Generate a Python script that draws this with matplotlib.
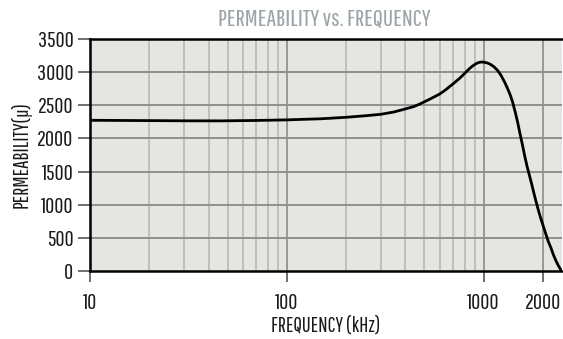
import matplotlib
matplotlib.use("Agg")
import matplotlib.pyplot as plt
from matplotlib.ticker import FixedLocator, NullFormatter

plt.rcParams['font.family'] = ['Pathway Gothic One', 'DejaVu Sans']

# values
freq_khz = [10, 15, 20, 30, 45, 70, 100, 150, 200, 250, 300, 350, 400, 440,
            470, 530, 597, 635, 670, 710, 753, 800, 847, 880, 915, 945, 970,
            1000, 1048, 1090, 1133, 1180, 1225, 1275, 1324, 1365, 1403, 1445,
            1487, 1530, 1575, 1620, 1668, 1715, 1760, 1800, 1844, 1900, 1950,
            2010, 2071, 2130, 2200, 2260, 2328, 2400, 2490]
permeability = [2275, 2272, 2270, 2267, 2266, 2272, 2281, 2298, 2320, 2343,
                2365, 2400, 2446, 2480, 2515, 2590, 2670, 2725, 2780, 2840,
                2905, 2980, 3054, 3095, 3129, 3147, 3154, 3153, 3139, 3115,
                3079, 3025, 2955, 2860, 2754, 2660, 2555, 2410, 2256, 2080,
                1907, 1730, 1565, 1430, 1300, 1180, 1058, 915, 800, 680, 560,
                450, 350, 250, 160, 80, 0]

x_ticks = [10, 100, 1000, 2000]
x_minor = [20, 30, 40, 50, 60, 70, 80, 90, 200, 300, 400, 500, 600, 700,
           800, 900]
y_ticks = [0, 500, 1000, 1500, 2000, 2500, 3000, 3500]

fig = plt.figure(figsize=(5.63, 3.39), dpi=100)
ax = fig.add_axes([0.160, 0.2006, 0.838, 0.684])
ax.set_facecolor('#e5e5e1')

ax.set_xscale('log')
ax.set_xlim(10, 2500)
ax.set_ylim(0, 3500)

# grid
for f in x_minor:
    ax.axvline(f, color='#b4b4b2', lw=1.1, zorder=1)
for f in [100, 1000, 2000]:
    ax.axvline(f, color='#8c8c8c', lw=1.2, zorder=1)
for v in y_ticks[1:]:
    ax.axhline(v, color='#8f8f8f', lw=1.4, zorder=1)

ax.plot(freq_khz, permeability, color='black', lw=2.0, zorder=3,
        solid_capstyle='round', solid_joinstyle='round')

ax.xaxis.set_major_locator(FixedLocator(x_ticks))
ax.xaxis.set_minor_locator(FixedLocator(x_minor))
ax.xaxis.set_minor_formatter(NullFormatter())
ax.set_xticklabels([str(t) for t in x_ticks])
ax.set_yticks(y_ticks)

ax.tick_params(axis='x', which='major', direction='out', length=8, width=1.2,
               color='#555555', pad=8, labelsize=16, labelcolor='#1a1a1a')
ax.tick_params(axis='x', which='minor', length=0)
ax.tick_params(axis='y', direction='out', length=9, width=1.2,
               color='#555555', pad=3, labelsize=16, labelcolor='#1a1a1a')

for side in ['top', 'left', 'bottom']:
    ax.spines[side].set_color('black')
    ax.spines[side].set_linewidth(1.8)
    ax.spines[side].set_zorder(4)
ax.spines['right'].set_visible(False)

ax.set_xlabel('FREQUENCY (kHz)', fontsize=15, color='#1a1a1a', labelpad=2)
ax.set_ylabel('PERMEABILITY(\u03bc)', fontsize=15, color='#1a1a1a', labelpad=4)

fig.text(0.576, 0.945, 'PERMEABILITY vs. FREQUENCY', ha='center', va='center',
         fontsize=17.5, color='#9aa4a7')

fig.savefig('out.png', dpi=100)
